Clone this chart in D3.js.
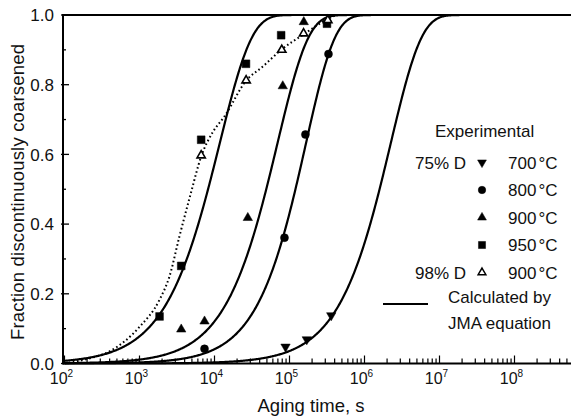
<!DOCTYPE html>
<html>
<head>
<meta charset="utf-8">
<script src="https://cdn.jsdelivr.net/npm/d3@7"></script>
<style>
  html, body { margin: 0; padding: 0; background: #fff; }
  svg { display: block; font-family: "Liberation Sans", Arial, sans-serif; }
</style>
</head>
<body>
<svg id="chart" width="571" height="419"></svg>
<script>
// ---- data ----
const xTickExponents = [2, 3, 4, 5, 6, 7, 8];
const yTickLabels = ["0.0", "0.2", "0.4", "0.6", "0.8", "1.0"];

// 75% D, 700 °C (filled down triangles)
const t700 = [88500, 170000, 360000];
const f700 = [0.048, 0.069, 0.138];
// 75% D, 800 °C (filled circles)
const t800 = [7360, 85700, 163000, 331000];
const f800 = [0.042, 0.361, 0.657, 0.888];
// 75% D, 900 °C (filled up triangles)
const t900 = [3600, 7360, 27800, 81300, 155000];
const f900 = [0.098, 0.121, 0.418, 0.796, 0.98];
// 75% D, 950 °C (filled squares)
const t950 = [1850, 3600, 6640, 26300, 77400, 316000];
const f950 = [0.135, 0.28, 0.642, 0.86, 0.942, 0.975];
// 98% D, 900 °C (open triangles)
const t98 = [6640, 26400, 78900, 154000, 324000];
const f98 = [0.597, 0.812, 0.90, 0.947, 0.985];

// dotted guide line through the 98% D points
const tDotted = [100, 200, 400, 1000, 1850, 2510, 3410, 4790, 6640, 9550, 13600, 26300, 44000, 77400, 150700, 308000, 417000];
const fDotted = [0.0, 0.013, 0.035, 0.105, 0.183, 0.25, 0.365, 0.485, 0.594, 0.665, 0.709, 0.811, 0.852, 0.90, 0.943, 0.986, 1.0];

// JMA curves: f = 1 - exp(-(t/tau)^n)  (950, 900, 800, 700 °C)
const jmaTau = [11750, 69200, 166000, 2240000];
const jmaN = [1.02, 1.06, 1.13, 1.065];

// ---- layout ----
const svg = d3.select("#chart");
const x = d3.scaleLog().domain([1e2, Math.pow(10, 8.75)]).range([64.5, 570.75]);
const y = d3.scaleLinear().domain([0, 1]).range([363.5, 15]);

// frame: top line
svg.append("line").attr("x1", 63).attr("x2", 571).attr("y1", y(1)).attr("y2", y(1))
  .attr("stroke", "#000").attr("stroke-width", 1.8);

// x axis
const xMinor = [];
for (let e = 2; e <= 8; e++) for (let m = 1; m <= 9; m++) {
  const v = m * Math.pow(10, e);
  if (v <= x.domain()[1]) xMinor.push(v);
}
const gx = svg.append("g").attr("transform", `translate(0,${y(0)})`);
gx.append("line").attr("x1", 63).attr("x2", 571).attr("stroke", "#000").attr("stroke-width", 2);
gx.selectAll("line.minor").data(xMinor).enter().append("line")
  .attr("x1", d => x(d)).attr("x2", d => x(d))
  .attr("y1", 0).attr("y2", d => (Math.abs(Math.log10(d) - Math.round(Math.log10(d))) < 1e-9 ? -8 : -5))
  .attr("stroke", "#000").attr("stroke-width", 1.2);
const xl = gx.selectAll("text.xt").data(xTickExponents).enter().append("text")
  .attr("x", d => x(Math.pow(10, d)) - 3).attr("y", 20)
  .attr("text-anchor", "middle").attr("font-size", 16).attr("fill", "#111");
xl.append("tspan").text("10");
xl.append("tspan").attr("dy", -7).attr("font-size", 10).text(d => d);

// y axis
const gy = svg.append("g").attr("transform", `translate(63,0)`);
gy.append("line").attr("y1", y(1) - 1).attr("y2", y(0) + 1).attr("stroke", "#000").attr("stroke-width", 2);
const yMinor = d3.range(0, 11).map(i => i / 10);
gy.selectAll("line.t").data(yMinor).enter().append("line")
  .attr("y1", d => y(d)).attr("y2", d => y(d))
  .attr("x1", d => (Math.round(d * 10) % 2 === 0 ? -2 : 0)).attr("x2", d => (Math.round(d * 10) % 2 === 0 ? 6 : 3))
  .attr("stroke", "#000").attr("stroke-width", 1.3);
gy.selectAll("text.yt").data(yTickLabels).enter().append("text")
  .attr("x", -9).attr("y", d => y(+d)).attr("dy", "0.36em")
  .attr("text-anchor", "end").attr("font-size", 17).attr("fill", "#111").text(d => d);

// axis titles
svg.append("text").attr("x", 311).attr("y", 412).attr("text-anchor", "middle")
  .attr("font-size", 18.5).attr("fill", "#111").text("Aging time, s");
svg.append("text").attr("transform", "translate(24,192) rotate(-90)").attr("text-anchor", "middle")
  .attr("font-size", 18.5).attr("fill", "#111")
  .attr("textLength", 296).attr("lengthAdjust", "spacing")
  .text("Fraction discontinuously coarsened");

// clip
svg.append("clipPath").attr("id", "clip").append("rect")
  .attr("x", 64).attr("y", 0).attr("width", 510).attr("height", y(0) + 1);
const plot = svg.append("g").attr("clip-path", "url(#clip)");

// JMA curves
const sampleLog = d3.range(2, 8.76, 0.01);
const line = d3.line().x(d => x(d[0])).y(d => y(d[1])).curve(d3.curveLinear);
jmaTau.forEach((tau, i) => {
  const pts = sampleLog.map(l => {
    const t = Math.pow(10, l);
    return [t, 1 - Math.exp(-Math.pow(t / tau, jmaN[i]))];
  });
  plot.append("path").attr("d", line(pts)).attr("fill", "none")
    .attr("stroke", "#000").attr("stroke-width", 2.2);
});

// dotted line
const dotted = tDotted.map((t, i) => [t, fDotted[i]]);
plot.append("path")
  .attr("d", d3.line().x(d => x(d[0])).y(d => y(d[1])).curve(d3.curveMonotoneX)(dotted))
  .attr("fill", "none").attr("stroke", "#000").attr("stroke-width", 2)
  .attr("stroke-dasharray", "1.6,2.6").attr("stroke-linecap", "butt");

// markers
function drawMarkers(ts, fs, type, size, rot, open) {
  svg.append("g").selectAll("path").data(ts.map((t, i) => [t, fs[i]])).enter().append("path")
    .attr("d", d3.symbol().type(type).size(size)())
    .attr("transform", d => `translate(${x(d[0])},${y(d[1])}) rotate(${rot})`)
    .attr("fill", open ? "#fff" : "#000").attr("stroke", "#000").attr("stroke-width", open ? 1.6 : 0.5);
}
drawMarkers(t700, f700, d3.symbolTriangle, 38, 180, false);
drawMarkers(t800, f800, d3.symbolCircle, 50, 0, false);
drawMarkers(t900, f900, d3.symbolTriangle, 38, 0, false);
drawMarkers(t950, f950, d3.symbolSquare, 60, 0, false);
drawMarkers(t98, f98, d3.symbolTriangle, 30, 0, true);

// legend
const leg = svg.append("g").attr("font-size", 17).attr("fill", "#111");
leg.append("text").attr("x", 435).attr("y", 137).text("Experimental");
const legRows = [
  { pre: "75% D", temp: "700", type: d3.symbolTriangle, rot: 180, size: 34, open: false },
  { pre: "", temp: "800", type: d3.symbolCircle, rot: 0, size: 44, open: false },
  { pre: "", temp: "900", type: d3.symbolTriangle, rot: 0, size: 34, open: false },
  { pre: "", temp: "950", type: d3.symbolSquare, rot: 0, size: 50, open: false },
  { pre: "98% D", temp: "900", type: d3.symbolTriangle, rot: 0, size: 26, open: true }
];
legRows.forEach((r, i) => {
  const cy = 162.5 + i * 27.5;
  if (r.pre) leg.append("text").attr("x", 466).attr("y", cy).attr("dy", "0.36em")
    .attr("text-anchor", "end").text(r.pre);
  leg.append("path").attr("d", d3.symbol().type(r.type).size(r.size)())
    .attr("transform", `translate(482,${cy}) rotate(${r.rot})`)
    .attr("fill", r.open ? "#fff" : "#000").attr("stroke", "#000").attr("stroke-width", r.open ? 1.5 : 0.5);
  const tx = leg.append("text").attr("x", 508).attr("y", cy).attr("dy", "0.36em");
  tx.append("tspan").text(r.temp);
  tx.append("tspan").attr("dx", 2).text("°C");
});
leg.append("line").attr("x1", 383).attr("x2", 428).attr("y1", 304).attr("y2", 304)
  .attr("stroke", "#000").attr("stroke-width", 2);
leg.append("text").attr("x", 448).attr("y", 303).text("Calculated by");
leg.append("text").attr("x", 448).attr("y", 329).text("JMA equation");
</script>
</body>
</html>
